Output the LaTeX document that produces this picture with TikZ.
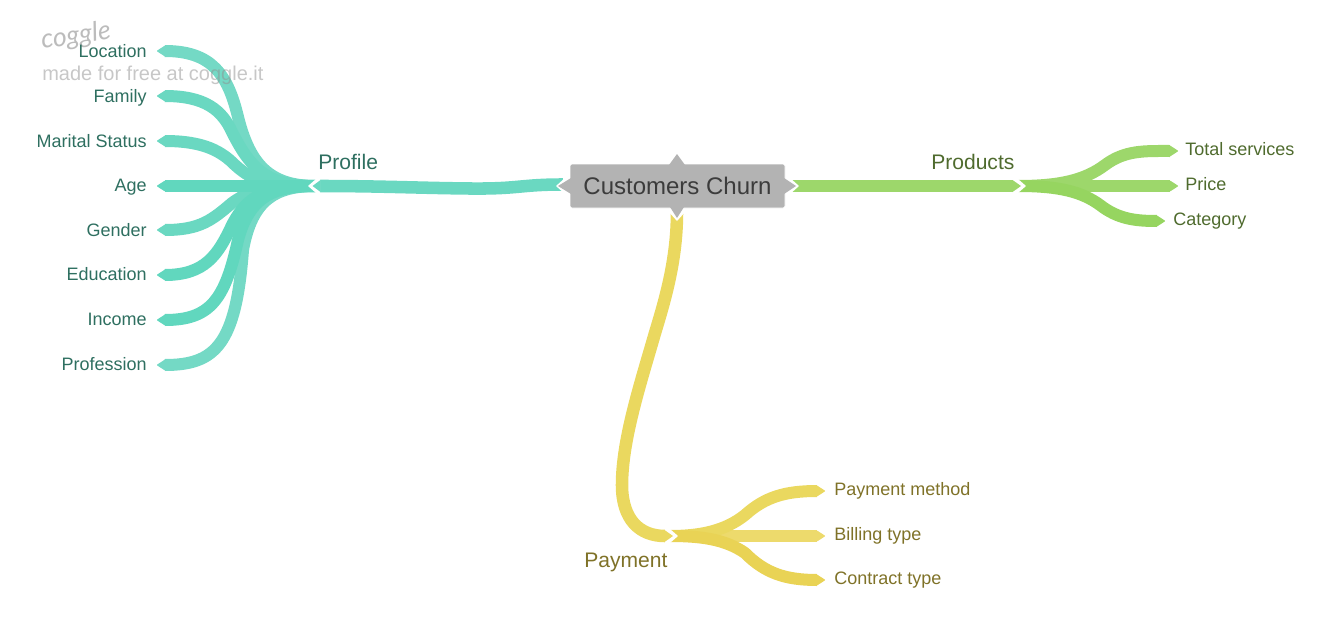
\documentclass[tikz,border=0pt]{standalone}
\usepackage{fontspec}
\setmainfont{Liberation Sans}
\newfontfamily\cogfont{Lato}
\usetikzlibrary{arrows.meta}
\definecolor{tealA}{HTML}{6AD8C1}
\definecolor{tealB}{HTML}{74D9C5}
\definecolor{tealC}{HTML}{61D7BE}
\definecolor{tealT}{HTML}{2E6F60}
\definecolor{greenA}{HTML}{9DD76B}
\definecolor{greenB}{HTML}{96D560}
\definecolor{greenT}{HTML}{4F6B2E}
\definecolor{yelA}{HTML}{EAD85F}
\definecolor{yelB}{HTML}{EDDA6C}
\definecolor{yelC}{HTML}{E9D355}
\definecolor{yelT}{HTML}{7F7228}
\definecolor{hubgray}{HTML}{B3B3B3}
\definecolor{hubtext}{HTML}{3C3C3C}
\definecolor{marktext}{HTML}{909090}
\definecolor{marklogo}{HTML}{7A7A7A}
\tikzset{
  ribbon/.style={line width=9pt,line cap=butt},
  trunk/.style={line width=9.4pt,line cap=butt},
  tipped/.style={ribbon,-{Triangle[length=6.4pt,width=8.2pt,line width=0.8pt,round]}},
  leafL/.style={anchor=base east,font=\fontsize{13.5pt}{16pt}\selectfont,text=tealT,inner sep=0pt},
  leafG/.style={anchor=base west,font=\fontsize{13.5pt}{16pt}\selectfont,text=greenT,inner sep=0pt},
  leafY/.style={anchor=base west,font=\fontsize{13.5pt}{16pt}\selectfont,text=yelT,inner sep=0pt},
  branchlabel/.style={anchor=base west,font=\fontsize{15.8pt}{19pt}\selectfont,inner sep=0pt},
}
\begin{document}
\begin{tikzpicture}[x=0.75pt,y=-0.75pt]
\useasboundingbox (0,0) rectangle (1340,639);
% anchors
\coordinate (hubP) at (316,186);
\coordinate (hubG) at (1018,186);
\coordinate (hubY) at (670,536);
\foreach \n/\y in {a/51,b/96,c/141,d/186,e/230,f/275,g/320,h/365}{\coordinate (t\n) at (157,\y);}
\coordinate (g1) at (1178,151);
\coordinate (g2) at (1178,186);
\coordinate (g3) at (1165,221);
\coordinate (y1) at (825,491);
\coordinate (y2) at (825,536);
\coordinate (y3) at (825,580);
% teal leaves
\draw[tipped,draw=tealB] (hubP) .. controls (270,186) and (250,165) .. (238,117) .. controls (228,75) and (212,51) .. (ta);
\draw[tipped,draw=tealB] (hubP) .. controls (275,186) and (252,200) .. (243,250) .. controls (236,345) and (215,365) .. (th);
\draw[tipped,draw=tealA] (hubP) .. controls (270,186) and (252,172) .. (232,132) .. controls (222,110) and (205,96) .. (tb);
\draw[tipped,draw=tealA] (hubP) .. controls (270,186) and (255,183) .. (235,165) .. controls (222,152) and (205,141) .. (tc);
\draw[tipped,draw=tealA] (hubP) .. controls (280,186) and (255,186) .. (232,203) .. controls (212,220) and (200,230) .. (te);
\draw[tipped,draw=tealC] (hubP) .. controls (275,186) and (250,190) .. (232,225) .. controls (218,255) and (205,275) .. (tf);
\draw[tipped,draw=tealC] (hubP) .. controls (275,186) and (250,195) .. (238,240) .. controls (225,300) and (210,320) .. (tg);
\draw[tipped,draw=tealC] (hubP) -- (td);
% green leaves
\draw[tipped,draw=greenA] (hubG) .. controls (1060,186) and (1085,180) .. (1105,165) .. controls (1125,150) and (1145,151) .. (g1);
\draw[tipped,draw=greenA] (hubG) -- (g2);
\draw[tipped,draw=greenB] (hubG) .. controls (1060,186) and (1082,192) .. (1100,205) .. controls (1118,219) and (1135,221) .. (g3);
% yellow leaves
\draw[tipped,draw=yelB] (hubY) -- (y2);
\draw[tipped,draw=yelA] (hubY) .. controls (700,536) and (725,531) .. (745,515) .. controls (765,497) and (785,491) .. (y1);
\draw[tipped,draw=yelC] (hubY) .. controls (700,536) and (725,539) .. (745,553) .. controls (765,573) and (785,580) .. (y3);
\coordinate (pEnd) at (320,186);
\coordinate (gEnd) at (1013,186);
\coordinate (yEnd) at (665,536);
\coordinate (rootW) at (563,184.5);
\coordinate (rootE) at (788,186);
\coordinate (rootS) at (677,212);
% trunks
\draw[trunk,draw=tealA] (rootW) .. controls (520,184.5) and (520,189) .. (470,188.5) .. controls (420,188) and (380,186) .. (pEnd);
\draw[trunk,draw=greenA] (rootE) -- (gEnd);
\draw[trunk,draw=yelA] (rootS) .. controls (677,260) and (665,300) .. (655,333) .. controls (640,385) and (622,440) .. (622,485) .. controls (622,520) and (640,536) .. (yEnd);
% white chevrons and trunk tips at the junctions
\fill[white] (320,179) -- (316,179) -- (308,186) -- (316,193) -- (320,193) -- cycle;
\fill[tealA] (320.5,180) -- (312.5,186) -- (320.5,192) -- cycle;
\fill[white] (1013,179) -- (1018,179) -- (1026,186) -- (1018,193) -- (1013,193) -- cycle;
\fill[greenA] (1012.5,180) -- (1021,186) -- (1012.5,192) -- cycle;
\fill[white] (665,529) -- (670,529) -- (678,536) -- (670,543) -- (665,543) -- cycle;
\fill[yelA] (664.5,530) -- (673,536) -- (664.5,542) -- cycle;
% white halo of the root tips
\fill[white] (566,177) -- (556,186) -- (566,195) -- (572,195) -- (572,177) -- cycle;
\fill[white] (789,177) -- (799,186) -- (789,195) -- (783,195) -- (783,177) -- cycle;
\fill[white] (668,207) -- (668,211) -- (677,221) -- (686,211) -- (686,207) -- cycle;
% root
\node[draw=white,line width=0.6pt,fill=hubgray,rounded corners=1.5pt,minimum width=161.25pt,minimum height=33pt,inner sep=0pt] (root) at (677.5,186) {};
% root tips
\fill[hubgray] (669,165) -- (677,154) -- (685,165) -- cycle;
\fill[hubgray] (670,207) -- (677,218) -- (684,207) -- cycle;
\fill[hubgray] (571,178) -- (558,186) -- (571,194) -- cycle;
\fill[hubgray] (784,178) -- (796,186) -- (784,194) -- cycle;
\node[text=hubtext,font=\fontsize{18pt}{21pt}\selectfont,inner sep=0pt,anchor=base] (roottext) at (677.5,194.5) {Customers Churn};
% watermark
\node[anchor=base west,inner sep=0pt,rotate=8,text=marklogo,text opacity=.5,font=\cogfont\itshape\fontsize{20pt}{24pt}\selectfont] (wm1) at (42,49) {coggle};
\node[anchor=base west,inner sep=0pt,text=marktext,text opacity=.5,font=\fontsize{15pt}{18pt}\selectfont] (wm2) at (42,80) {made for free at coggle.it};
% branch labels
\node[branchlabel,text=tealT] (lp) at (318,169) {Profile};
\node[branchlabel,text=greenT] (lg) at (931,169) {Products};
\node[branchlabel,text=yelT] (ly) at (584,567) {Payment};
% leaves
\node[leafL] (n1) at (147,57) {Location};
\node[leafL] (n2) at (147,102) {Family};
\node[leafL] (n3) at (147,147) {Marital Status};
\node[leafL] (n4) at (147,191) {Age};
\node[leafL] (n5) at (147,236) {Gender};
\node[leafL] (n6) at (147,280) {Education};
\node[leafL] (n7) at (147,325) {Income};
\node[leafL] (n8) at (147,370) {Profession};
\node[leafG] (m1) at (1185,155) {Total services};
\node[leafG] (m2) at (1185,190) {Price};
\node[leafG] (m3) at (1173,225) {Category};
\node[leafY] (k1) at (834,495) {Payment method};
\node[leafY] (k2) at (834,540) {Billing type};
\node[leafY] (k3) at (834,584) {Contract type};
\end{tikzpicture}
\end{document}
